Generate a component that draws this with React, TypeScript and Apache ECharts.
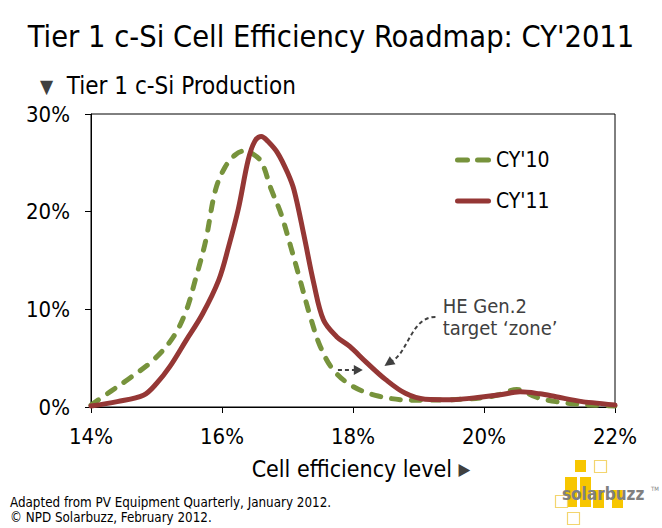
import React, { useEffect, useRef } from "react";
import * as echarts from "echarts";

const titleText = "Tier 1 c-Si Cell Efficiency Roadmap: CY'2011";
const yAxisTitle = "Tier 1 c-Si Production";
const xAxisTitle = "Cell efficiency level";
const seriesNames = ["CY'10", "CY'11"];
const xTicks = [14, 16, 18, 20, 22];
const yTicks = [0, 10, 20, 30];

const cy10Eff = [14.0, 14.3, 14.6, 14.95, 15.25, 15.45, 15.6, 15.75, 15.9, 16.05, 16.2, 16.33, 16.45, 16.6, 16.75, 16.9, 17.05, 17.2, 17.35, 17.5, 17.7, 18.0, 18.4, 18.9, 19.5, 20.0, 20.25, 20.5, 20.8, 21.1, 21.5, 22.0];
const cy10Val = [0.2, 1.6, 3.0, 4.8, 7.1, 9.8, 13.2, 17.0, 22.2, 24.6, 25.8, 26.2, 26.0, 25.1, 22.3, 19.8, 16.4, 12.8, 9.2, 6.2, 3.8, 2.1, 1.1, 0.7, 0.75, 0.95, 1.3, 1.8, 1.0, 0.55, 0.25, 0.1];

const cy11Eff = [14.0, 14.4, 14.8, 15.0, 15.2, 15.45, 15.7, 15.95, 16.1, 16.25, 16.4, 16.5, 16.6, 16.7, 16.85, 17.0, 17.1, 17.25, 17.4, 17.55, 17.75, 17.95, 18.2, 18.5, 18.8, 19.1, 19.5, 20.0, 20.25, 20.55, 20.85, 21.1, 21.5, 22.0];
const cy11Val = [0.1, 0.55, 1.2, 2.4, 4.1, 6.8, 9.5, 13.0, 16.4, 20.3, 25.3, 27.2, 27.7, 27.2, 26.0, 24.0, 22.2, 17.6, 12.7, 8.9, 7.2, 6.2, 4.6, 2.8, 1.4, 0.8, 0.75, 1.05, 1.25, 1.55, 1.35, 1.05, 0.55, 0.2];

const annotationLines = ["HE Gen.2", "target \u2018zone\u2019"];
const footerLines = [
  "Adapted from PV Equipment Quarterly, January 2012.",
  "\u00a9 NPD Solarbuzz, February 2012.",
];

const FONT = "'DejaVu Sans Condensed', 'DejaVu Sans', Verdana, sans-serif";
const GREEN = "#77933C";
const RED = "#953735";
const ANN = "#404040";

const DASH_ICON =
  "path://M2.5,0H12.5A2.5,2.5,0,0,1,12.5,5H2.5A2.5,2.5,0,0,1,2.5,0ZM22.5,0H33.5A2.5,2.5,0,0,1,33.5,5H22.5A2.5,2.5,0,0,1,22.5,0Z";
const SOLID_ICON = "path://M2.5,0H33.5A2.5,2.5,0,0,1,33.5,5H2.5A2.5,2.5,0,0,1,2.5,0Z";

function arrowHead(tip: number[], from: number[], len: number, half: number) {
  const dx = tip[0] - from[0];
  const dy = tip[1] - from[1];
  const d = Math.hypot(dx, dy) || 1;
  const ux = dx / d, uy = dy / d;
  const bx = tip[0] - ux * len, by = tip[1] - uy * len;
  return [
    [tip[0], tip[1]],
    [bx - uy * half, by + ux * half],
    [bx + uy * half, by - ux * half],
  ];
}

export default function App() {
  const ref = useRef<HTMLDivElement>(null);
  useEffect(() => {
    if (!ref.current) return;
    const chart = echarts.init(ref.current, null, { renderer: "svg", width: 662, height: 528 });
    const option: any = {
      animation: false,
      backgroundColor: "#ffffff",
      textStyle: { fontFamily: FONT },
      title: {
        text: titleText,
        left: "center",
        top: 16,
        textStyle: { fontFamily: FONT, fontSize: 30.5, fontWeight: "normal", color: "#000" },
      },
      grid: {
        left: 91,
        right: 47,
        top: 114,
        bottom: 121,
        show: true,
        borderColor: "#000",
        borderWidth: 1,
        backgroundColor: "transparent",
      },
      legend: {
        orient: "vertical",
        left: 450,
        top: 144,
        itemWidth: 36,
        itemHeight: 5,
        itemGap: 19,
        data: [
          { name: seriesNames[0], icon: DASH_ICON },
          { name: seriesNames[1], icon: SOLID_ICON },
        ],
        textStyle: { fontFamily: FONT, fontSize: 21, color: "#000", lineHeight: 22 },
      },
      xAxis: {
        type: "value",
        min: xTicks[0],
        max: xTicks[xTicks.length - 1],
        interval: xTicks[1] - xTicks[0],
        name: xAxisTitle + " {t|\u25B6}",
        nameLocation: "middle",
        nameGap: 50,
        nameTextStyle: {
          fontFamily: FONT,
          fontSize: 23,
          color: "#000",
          padding: [0, 0, 0, 16],
          rich: { t: { fontSize: 17, color: ANN, fontFamily: FONT } },
        },
        axisLine: { show: true, lineStyle: { color: "#000", width: 1 } },
        axisTick: { show: true, length: 6, lineStyle: { color: "#000" } },
        axisLabel: { formatter: "{value}%", fontSize: 22, color: "#000", margin: 18, fontFamily: FONT },
        splitLine: { show: false },
      },
      yAxis: {
        type: "value",
        min: yTicks[0],
        max: yTicks[yTicks.length - 1],
        interval: yTicks[1] - yTicks[0],
        axisLine: { show: true, lineStyle: { color: "#000", width: 1 } },
        axisTick: { show: true, length: 6, lineStyle: { color: "#000" } },
        axisLabel: { formatter: "{value}%", fontSize: 22, color: "#000", margin: 21, fontFamily: FONT },
        splitLine: { show: false },
      },
      series: [
        {
          name: seriesNames[0],
          type: "line",
          smooth: 0.35,
          symbol: "none",
          showSymbol: false,
          data: cy10Eff.map((x, i) => [x, cy10Val[i]]),
          lineStyle: { color: GREEN, width: 5, type: [9, 11], cap: "round" },
          itemStyle: { color: GREEN },
          z: 2,
        },
        {
          name: seriesNames[1],
          type: "line",
          smooth: 0.35,
          symbol: "none",
          showSymbol: false,
          data: cy11Eff.map((x, i) => [x, cy11Val[i]]),
          lineStyle: { color: RED, width: 5, cap: "round" },
          itemStyle: { color: RED },
          z: 3,
        },
      ],
    };
    chart.setOption(option);

    const px = (p: number[]) => chart.convertToPixel({ gridIndex: 0 }, p) as number[];
    const tip = px([18.48, 4.2]);
    const start = [tip[0] + 51, tip[1] - 49];
    const cp1 = [tip[0] + 26, tip[1] - 49];
    const cp2 = [tip[0] + 24, tip[1] - 12];
    const end = [tip[0] + 6, tip[1] - 4];
    const sa = px([17.77, 3.8]);
    const sb = px([18.15, 3.8]);
    const txt = px([19.37, 9.2]);

    const logoFilled = [
      [575, 460, 11, 12], [565, 477, 12, 30], [580, 477, 11, 30], [593, 490, 11, 18], [612, 490, 11, 18],
    ];
    const logoOutline = [[594.5, 460.5, 12, 12], [555.5, 495.5, 12, 12], [567.5, 512.5, 12, 12]];

    const graphic: any[] = [
      {
        type: "text",
        left: 40,
        top: 74,
        style: {
          text: "{t|\u25BC}  " + yAxisTitle,
          fontFamily: FONT,
          fontSize: 24,
          fill: "#000",
          rich: { t: { fontSize: 19, fill: ANN, fontFamily: FONT } },
        },
      },
      {
        type: "bezierCurve",
        shape: { x1: start[0], y1: start[1], cpx1: cp1[0], cpy1: cp1[1], cpx2: cp2[0], cpy2: cp2[1], x2: end[0], y2: end[1] },
        style: { stroke: ANN, lineWidth: 2, lineDash: [4, 3], fill: null },
        z: 10,
      },
      {
        type: "polygon",
        shape: { points: arrowHead(tip, [end[0] + 4, end[1] - 3], 10, 5) },
        style: { fill: ANN },
        z: 10,
      },
      {
        type: "line",
        shape: { x1: sa[0], y1: sa[1], x2: sb[0] - 6, y2: sb[1] },
        style: { stroke: ANN, lineWidth: 2, lineDash: [4, 3] },
        z: 10,
      },
      {
        type: "polygon",
        shape: { points: arrowHead(sb, [sb[0] - 10, sb[1]], 9, 5) },
        style: { fill: ANN },
        z: 10,
      },
      {
        type: "text",
        x: txt[0],
        y: txt[1],
        style: {
          text: annotationLines.join("\n"),
          fontFamily: FONT,
          fontSize: 20,
          lineHeight: 22,
          fill: ANN,
          textVerticalAlign: "middle",
          verticalAlign: "middle",
        },
        z: 10,
      },
      {
        type: "text",
        left: 10,
        top: 495,
        style: {
          text: footerLines.join("\n"),
          fontFamily: FONT,
          fontSize: 13.3,
          lineHeight: 15,
          fill: "#000",
        },
      },
      ...logoFilled.map((r) => ({
        type: "rect",
        shape: { x: r[0], y: r[1], width: r[2], height: r[3] },
        style: { fill: "#F7C600" },
        z: 1,
      })),
      ...logoOutline.map((r) => ({
        type: "rect",
        shape: { x: r[0], y: r[1], width: r[2], height: r[3] },
        style: { fill: "#fff", stroke: "#F3D56E", lineWidth: 1.2 },
        z: 1,
      })),
      {
        type: "text",
        x: 562,
        y: 494,
        style: {
          text: "solarbuzz",
          fontFamily: "'DejaVu Sans Condensed', 'DejaVu Sans', sans-serif",
          fontSize: 17,
          fontWeight: "bold",
          fill: "#808080",
          verticalAlign: "middle",
          textVerticalAlign: "middle",
        },
        z: 2,
      },
      {
        type: "text",
        x: 651,
        y: 488,
        style: { text: "TM", fontFamily: FONT, fontSize: 6, fill: "#808080", verticalAlign: "middle" },
        z: 2,
      },
    ];
    chart.setOption({ graphic });

    return () => chart.dispose();
  }, []);
  return <div ref={ref} style={{ width: 662, height: 528, position: "fixed", left: 0, top: 0 }} />;
}
